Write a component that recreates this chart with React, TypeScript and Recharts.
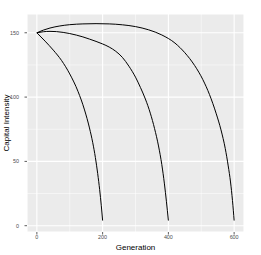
import React from "react";
import {
  LineChart,
  Line,
  XAxis,
  YAxis,
  CartesianGrid,
} from "recharts";

// generations and capital intensity
const genA = [0, 25, 50, 75, 100, 125, 145, 160, 170, 178, 185, 191, 196, 200];
const valA = [150, 143.5, 136.5, 128.5, 118, 104.5, 90, 76, 64.5, 53, 40.5, 28, 15.5, 4];

const genB = [0, 20, 40, 60, 80, 100, 120, 140, 160, 180, 200, 220, 240, 260, 280, 300, 315, 330, 345, 358, 370, 380, 388, 394, 400];
const valB = [150, 150.8, 151.1, 150.9, 150.3, 149.4, 148.2, 146.8, 145.1, 143.3, 141.3, 138.9, 135.6, 130.9, 124, 115.5, 107.5, 98.5, 87.5, 75.5, 62, 47.5, 32.5, 19, 4];

const genC = [0, 20, 40, 70, 100, 140, 180, 220, 260, 300, 340, 380, 420, 450, 480, 505, 525, 545, 560, 573, 582, 589, 595, 600];
const valC = [150, 152.1, 153.7, 155.3, 156.3, 156.9, 157.1, 156.9, 156.2, 154.8, 152.3, 148.3, 142, 134.5, 124.5, 113.5, 102, 87.5, 74.5, 60, 46.5, 34, 19.5, 4];

const xTicks = [0, 200, 400, 600];
const yTicks = [0, 50, 100, 150];
const xMinor = [100, 300, 500];
const yMinor = [25, 75, 125];

const toRows = (gens: number[], vals: number[]) =>
  gens.map((g, i) => ({ gen: g, val: vals[i] }));

const curves = [toRows(genA, valA), toRows(genB, valB), toRows(genC, valC)];

const FONT = "'Liberation Sans', Arial, sans-serif";
const tickStyle = { fill: "#4D4D4D", fontSize: 5.4, fontFamily: FONT };

export default function App() {
  return (
    <div style={{ position: "absolute", left: 0, top: 0, background: "#fff" }}>
      <LineChart
        width={261}
        height={255}
        margin={{ top: 14, right: 17, bottom: 0, left: 0 }}
      >
        {/* panel + minor grid */}
        <CartesianGrid
          fill="#EBEBEB"
          stroke="#FFFFFF"
          strokeWidth={0.5}
          horizontalValues={yMinor}
          verticalValues={xMinor}
        />
        {/* major grid */}
        <CartesianGrid stroke="#FFFFFF" strokeWidth={1.1} />
        <XAxis
          type="number"
          dataKey="gen"
          domain={[-30, 630]}
          ticks={xTicks}
          allowDataOverflow
          axisLine={false}
          tickSize={2.5}
          tickMargin={0.8}
          tickLine={{ stroke: "#333333", strokeWidth: 0.8 }}
          tick={tickStyle}
          height={23}
          label={{
            value: "Generation",
            position: "insideBottom",
            offset: 5,
            style: { fill: "#000", fontSize: 8, fontFamily: FONT },
          }}
        />
        <YAxis
          type="number"
          domain={[-4.9, 164.6]}
          ticks={yTicks}
          allowDataOverflow
          axisLine={false}
          tickSize={2.5}
          tickMargin={5.6}
          tickLine={{ stroke: "#333333", strokeWidth: 0.8 }}
          tick={tickStyle}
          width={27}
          label={{
            value: "Capital Intensity",
            angle: -90,
            position: "insideLeft",
            offset: 6.5,
            style: { textAnchor: "middle", fill: "#000", fontSize: 8, fontFamily: FONT },
          }}
        />
        {curves.map((d, i) => (
          <Line
            key={i}
            data={d}
            dataKey="val"
            type="monotone"
            stroke="#000"
            strokeWidth={1}
            dot={false}
            activeDot={false}
            isAnimationActive={false}
          />
        ))}
      </LineChart>
    </div>
  );
}
